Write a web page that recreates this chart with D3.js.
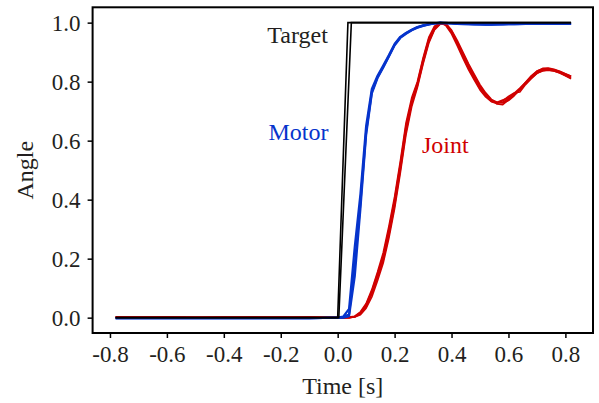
<!DOCTYPE html>
<html>
<head>
<meta charset="utf-8">
<script src="https://cdn.jsdelivr.net/npm/d3@7"></script>
<style>
  body { margin: 0; background: #fff; }
  svg text { font-family: "Liberation Serif", "DejaVu Serif", serif; }
</style>
</head>
<body>
<svg id="chart" width="599" height="403"></svg>
<script>
// time axis shared by motor and joint trials (s)
const time = [-0.78,-0.7,-0.6,-0.5,-0.4,-0.3,-0.2,-0.1,0,0.02,0.04,0.06,0.08,0.1,0.12,0.14,0.16,0.18,0.2,0.22,0.24,0.26,0.28,0.3,0.32,0.34,0.36,0.38,0.4,0.42,0.44,0.46,0.48,0.5,0.52,0.54,0.56,0.58,0.6,0.62,0.64,0.66,0.68,0.7,0.72,0.74,0.76,0.78,0.8,0.82]

// target step (two trials, slightly different ramp)
const targetTimeA = [-0.78, 0.0, 0.036, 0.82]
const targetTimeB = [-0.78, 0.004, 0.048, 0.82]
const targetValues = [0, 0, 1, 1]

// motor angle, three trials
const motorA = [-0.002,-0.002,-0.002,-0.002,-0.002,-0.002,-0.002,-0.002,0.0,0.004,0.03,0.24,0.42,0.65,0.775,0.82,0.855,0.89,0.928,0.952,0.965,0.976,0.985,0.991,0.995,0.998,1.0,0.999,0.998,0.997,0.996,0.996,0.995,0.995,0.994,0.994,0.995,0.995,0.996,0.996,0.996,0.997,0.997,0.997,0.997,0.997,0.997,0.997,0.997,0.997]
const motorB = [-0.002,-0.002,-0.002,-0.002,-0.002,-0.002,-0.002,-0.002,0.0,0.002,0.012,0.18,0.39,0.63,0.765,0.815,0.85,0.887,0.925,0.95,0.964,0.975,0.984,0.99,0.994,0.997,0.999,0.998,0.997,0.996,0.995,0.995,0.994,0.994,0.993,0.993,0.994,0.994,0.995,0.995,0.995,0.996,0.996,0.996,0.996,0.996,0.996,0.996,0.996,0.996]
const motorC = [-0.002,-0.002,-0.002,-0.002,-0.002,-0.002,-0.002,-0.002,0.0,0.0,0.005,0.14,0.37,0.62,0.76,0.812,0.848,0.885,0.923,0.948,0.962,0.974,0.983,0.989,0.994,0.997,0.999,0.998,0.997,0.996,0.996,0.995,0.995,0.994,0.994,0.994,0.994,0.995,0.995,0.995,0.996,0.996,0.996,0.996,0.996,0.996,0.996,0.996,0.996,0.996]

// joint angle, five trials
const jointA = [0.002,0.0,0.001,0.0,0.001,0.0,0.002,0.0,0.0,0.0,0.0,0.003,0.015,0.04,0.085,0.14,0.2,0.29,0.39,0.51,0.64,0.73,0.79,0.87,0.94,0.98,0.998,0.995,0.97,0.93,0.89,0.85,0.815,0.78,0.755,0.735,0.728,0.73,0.742,0.757,0.775,0.795,0.815,0.832,0.84,0.842,0.838,0.832,0.824,0.815]
const jointB = [0.001,0.002,0.0,0.001,0.0,0.002,0.0,0.001,0.0,0.0,0.0,0.002,0.01,0.032,0.07,0.125,0.185,0.27,0.37,0.49,0.62,0.715,0.78,0.86,0.93,0.975,0.995,0.997,0.975,0.94,0.9,0.86,0.825,0.79,0.762,0.74,0.73,0.728,0.736,0.752,0.772,0.795,0.817,0.835,0.845,0.846,0.842,0.835,0.827,0.818]
const jointC = [0.003,0.0,0.002,0.001,0.0,0.001,0.001,0.0,0.0,0.0,0.002,0.005,0.02,0.048,0.095,0.155,0.22,0.31,0.41,0.53,0.66,0.745,0.8,0.88,0.95,0.988,1.0,0.99,0.962,0.922,0.88,0.84,0.805,0.772,0.748,0.732,0.726,0.735,0.75,0.762,0.765,0.79,0.81,0.828,0.838,0.84,0.836,0.83,0.82,0.81]
const jointD = [0.0,0.001,0.001,0.0,0.002,0.0,0.0,0.001,0.0,0.0,0.0,0.003,0.013,0.036,0.08,0.135,0.195,0.28,0.38,0.5,0.63,0.725,0.785,0.865,0.935,0.978,0.996,0.996,0.972,0.935,0.895,0.855,0.82,0.785,0.758,0.738,0.724,0.722,0.738,0.755,0.775,0.798,0.82,0.836,0.843,0.844,0.84,0.834,0.826,0.818]
const jointE = [0.001,0.001,0.002,0.0,0.001,0.001,0.0,0.002,0.0,0.0,0.001,0.004,0.017,0.044,0.09,0.148,0.21,0.3,0.4,0.52,0.65,0.735,0.795,0.875,0.945,0.983,0.999,0.993,0.967,0.928,0.886,0.846,0.81,0.776,0.752,0.734,0.73,0.738,0.745,0.76,0.778,0.797,0.812,0.828,0.836,0.839,0.836,0.829,0.821,0.812]

const xTicks = [-0.8,-0.6,-0.4,-0.2,0.0,0.2,0.4,0.6,0.8]
const yTicks = [0.0,0.2,0.4,0.6,0.8,1.0]

const svg = d3.select('#chart')
const textColor = '#231f20'
const blue = '#0634cc'
const red = '#d00000'

const plotL = 92.6, plotR = 593, plotT = 7.3, plotB = 333

const x = d3.scaleLinear().domain([-0.861, 0.897]).range([plotL, plotR])
const y = d3.scaleLinear().domain([-0.052, 1.052]).range([plotB, plotT])

const line = d3.line().x(d => x(d[0])).y(d => y(d[1]))

const plot = svg.append('g')

// joint first, then motor, target on top
const joints = [jointA, jointB, jointC, jointD, jointE]
joints.forEach(vals => {
  plot.append('path')
    .attr('d', line(d3.zip(time, vals)))
    .attr('fill', 'none')
    .attr('stroke', red)
    .attr('stroke-width', 1.6)
    .attr('stroke-linejoin', 'round')
})

const motors = [motorA, motorB, motorC]
motors.forEach(vals => {
  plot.append('path')
    .attr('d', line(d3.zip(time, vals)))
    .attr('fill', 'none')
    .attr('stroke', blue)
    .attr('stroke-width', 2.2)
    .attr('stroke-linejoin', 'round')
})

;[targetTimeA, targetTimeB].forEach(ts => {
  plot.append('path')
    .attr('d', line(d3.zip(ts, targetValues)))
    .attr('fill', 'none')
    .attr('stroke', '#000')
    .attr('stroke-width', 1.6)
})

// axes
const xAxis = d3.axisBottom(x).tickValues(xTicks).tickSize(5).tickSizeOuter(0).tickPadding(8)
  .tickFormat(d => d3.format('.1f')(d).replace('−', '-'))
const yAxis = d3.axisLeft(y).tickValues(yTicks).tickSize(5).tickSizeOuter(0).tickPadding(7)
  .tickFormat(d3.format('.1f'))

const gx = svg.append('g').attr('transform', 'translate(0,' + plotB + ')').call(xAxis)
const gy = svg.append('g').attr('transform', 'translate(' + plotL + ',0)').call(yAxis)

;[gx, gy].forEach(g => {
  g.attr('font-family', null)
  g.select('.domain').remove()
  g.selectAll('line').attr('stroke', '#000').attr('stroke-width', 1.5)
  g.selectAll('text').attr('font-size', 23).attr('fill', textColor)
    .style('font-family', '"Liberation Serif", serif')
})

// frame
svg.append('rect')
  .attr('x', plotL).attr('y', plotT)
  .attr('width', plotR - plotL).attr('height', plotB - plotT)
  .attr('fill', 'none').attr('stroke', '#000').attr('stroke-width', 2)

// axis titles
svg.append('text')
  .attr('x', (plotL + plotR) / 2).attr('y', 394)
  .attr('text-anchor', 'middle').attr('font-size', 24).attr('fill', textColor)
  .text('Time [s]')

svg.append('text')
  .attr('transform', 'translate(33,' + ((plotT + plotB) / 2) + ') rotate(-90)')
  .attr('text-anchor', 'middle').attr('font-size', 24).attr('fill', textColor)
  .text('Angle')

// series labels
const labels = [
  { text: 'Target', t: -0.247, v: 0.93, color: textColor },
  { text: 'Motor', t: -0.243, v: 0.602, color: blue },
  { text: 'Joint', t: 0.296, v: 0.557, color: red }
]
svg.selectAll('.lbl').data(labels).enter().append('text')
  .attr('class', 'lbl')
  .attr('x', d => x(d.t)).attr('y', d => y(d.v))
  .attr('font-size', 24)
  .attr('fill', d => d.color)
  .text(d => d.text)
</script>
</body>
</html>
